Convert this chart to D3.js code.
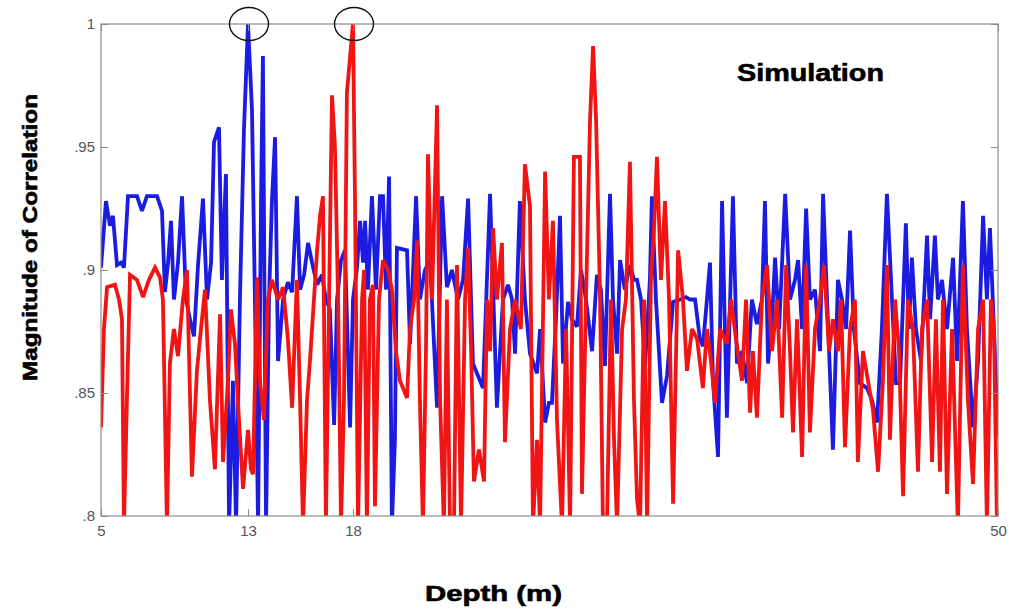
<!DOCTYPE html>
<html><head><meta charset="utf-8">
<script src="https://cdn.jsdelivr.net/npm/d3@7"></script>
<style>body{margin:0;background:#fff}svg{display:block}</style>
</head><body>
<svg id="c" width="1013" height="611"></svg>
<script>
const xTicks = [5, 13, 18, 50];
const yTicks = [0.8, 0.85, 0.9, 0.95, 1];
const yTickLabels = [".8", ".85", ".9", ".95", "1"];
const markedPeaks = [13, 18];

const blueDepth = [5.00,5.27,5.49,5.65,5.87,6.09,6.25,6.47,6.96,7.23,7.50,8.05,8.32,8.48,8.65,8.81,8.97,9.19,9.41,9.63,9.84,10.06,10.28,10.55,10.77,10.99,11.15,11.42,11.58,11.80,11.97,12.18,12.35,12.56,12.78,13.00,13.19,13.33,13.48,13.62,13.71,13.86,14.00,14.14,14.29,14.43,14.67,14.90,15.10,15.33,15.48,15.67,15.86,16.05,16.29,16.52,16.71,16.90,17.10,17.24,17.43,17.62,17.86,18.00,18.20,18.35,18.50,18.60,18.74,18.94,19.14,19.34,19.49,19.64,19.79,19.93,20.08,20.18,20.68,20.83,21.13,21.32,21.57,21.82,22.17,22.42,22.66,22.91,23.21,23.46,23.71,23.95,24.20,24.45,24.80,25.14,25.44,25.69,25.89,26.04,26.28,26.53,26.78,27.13,27.28,27.53,27.72,27.87,28.07,28.27,28.42,28.67,28.86,29.11,29.31,29.56,29.86,30.10,30.30,30.50,30.75,30.90,31.10,31.25,31.49,31.74,31.94,32.09,32.29,32.49,32.73,32.83,33.03,33.33,33.58,33.88,34.23,34.52,34.72,34.97,35.21,35.36,35.56,35.71,35.86,36.11,36.31,36.55,36.85,37.05,37.30,37.55,37.79,38.04,38.29,38.44,38.59,38.79,38.94,39.14,39.44,39.68,39.93,40.08,40.28,40.48,40.67,40.92,41.17,41.32,41.52,41.81,42.06,42.26,42.46,42.66,42.85,43.15,43.50,43.75,44.00,44.24,44.49,44.74,44.94,45.14,45.43,45.58,45.73,45.93,46.18,46.48,46.63,46.87,47.02,47.22,47.47,47.77,47.97,48.26,48.46,48.76,49.01,49.26,49.45,49.60,49.80,50.00];
const blueCorr = [0.901,0.928,0.918,0.922,0.902,0.903,0.901,0.930,0.930,0.924,0.930,0.930,0.924,0.891,0.903,0.920,0.888,0.903,0.930,0.888,0.880,0.873,0.902,0.929,0.888,0.903,0.952,0.958,0.896,0.939,0.796,0.855,0.796,0.888,0.957,1.000,0.965,0.888,0.796,0.928,0.987,0.796,0.888,0.928,0.954,0.863,0.888,0.895,0.891,0.930,0.892,0.898,0.911,0.903,0.894,0.898,0.888,0.884,0.837,0.888,0.904,0.908,0.836,0.888,0.901,0.920,0.903,0.920,0.892,0.930,0.892,0.930,0.930,0.892,0.938,0.796,0.831,0.909,0.908,0.870,0.930,0.888,0.900,0.904,0.844,0.930,0.893,0.900,0.888,0.896,0.929,0.862,0.857,0.852,0.931,0.844,0.888,0.894,0.888,0.866,0.928,0.888,0.866,0.858,0.876,0.838,0.846,0.846,0.880,0.922,0.862,0.887,0.880,0.877,0.900,0.888,0.867,0.898,0.892,0.861,0.931,0.888,0.866,0.904,0.892,0.902,0.896,0.896,0.888,0.861,0.896,0.930,0.888,0.846,0.857,0.887,0.888,0.889,0.888,0.888,0.872,0.869,0.888,0.903,0.855,0.824,0.928,0.840,0.930,0.862,0.867,0.854,0.888,0.878,0.888,0.928,0.862,0.880,0.905,0.876,0.931,0.888,0.896,0.904,0.876,0.925,0.888,0.892,0.867,0.931,0.888,0.827,0.896,0.888,0.876,0.916,0.876,0.854,0.852,0.847,0.838,0.876,0.931,0.888,0.854,0.854,0.919,0.876,0.905,0.876,0.863,0.914,0.880,0.914,0.888,0.896,0.876,0.905,0.863,0.928,0.876,0.836,0.863,0.922,0.888,0.917,0.876,0.832];

const redDepth = [5.00,5.16,5.33,5.76,5.98,6.14,6.25,6.41,6.58,6.96,7.29,7.61,7.94,8.21,8.37,8.59,8.75,8.97,9.19,9.46,9.68,9.95,10.22,10.44,10.66,10.93,11.20,11.48,11.64,11.91,12.07,12.29,12.51,12.73,13.00,13.14,13.24,13.43,13.57,13.76,13.95,14.14,14.43,14.67,14.90,15.10,15.33,15.48,15.62,15.81,15.95,16.14,16.29,16.43,16.57,16.71,16.86,17.00,17.14,17.29,17.43,17.57,17.71,18.00,18.10,18.25,18.45,18.55,18.69,18.84,18.99,19.09,19.29,19.49,19.74,19.93,20.13,20.33,20.53,20.68,20.83,21.03,21.18,21.32,21.47,21.62,21.72,21.92,22.17,22.32,22.51,22.66,22.81,23.01,23.16,23.36,23.56,23.71,23.86,24.00,24.25,24.50,24.65,24.80,24.95,25.14,25.39,25.54,25.79,26.04,26.33,26.53,26.78,26.93,27.13,27.28,27.53,27.72,27.92,28.12,28.37,28.57,28.77,28.96,29.26,29.36,29.56,29.76,29.91,30.06,30.26,30.40,30.60,30.80,30.95,31.10,31.35,31.54,31.74,31.94,32.09,32.24,32.44,32.59,32.78,32.93,33.08,33.28,33.48,33.68,33.88,34.13,34.37,34.57,34.82,35.07,35.36,35.56,35.76,35.96,36.21,36.55,36.75,37.00,37.30,37.50,37.70,37.84,38.04,38.29,38.54,38.79,39.04,39.29,39.49,39.68,39.83,40.03,40.28,40.48,40.67,40.92,41.17,41.37,41.62,41.81,42.06,42.21,42.41,42.66,42.90,43.05,43.30,43.55,43.80,44.05,44.29,44.49,44.64,44.89,45.09,45.29,45.53,45.78,46.03,46.23,46.48,46.73,46.92,47.12,47.27,47.47,47.72,48.01,48.26,48.51,48.76,49.01,49.26,49.45,49.65,49.80,49.95];
const redCorr = [0.836,0.876,0.893,0.894,0.888,0.880,0.796,0.847,0.898,0.896,0.889,0.896,0.901,0.897,0.888,0.796,0.862,0.876,0.865,0.888,0.900,0.816,0.859,0.876,0.892,0.847,0.819,0.882,0.822,0.855,0.884,0.870,0.839,0.811,0.835,0.819,0.817,0.897,0.855,0.839,0.888,0.896,0.888,0.893,0.872,0.844,0.896,0.847,0.796,0.847,0.863,0.888,0.908,0.922,0.930,0.796,0.888,0.971,0.950,0.888,0.796,0.847,0.972,1.000,0.928,0.796,0.888,0.900,0.796,0.888,0.894,0.804,0.888,0.904,0.900,0.892,0.867,0.855,0.851,0.848,0.876,0.888,0.912,0.847,0.796,0.867,0.947,0.888,0.967,0.847,0.796,0.888,0.796,0.796,0.902,0.796,0.888,0.909,0.867,0.814,0.827,0.814,0.888,0.867,0.917,0.888,0.911,0.830,0.876,0.888,0.876,0.943,0.926,0.796,0.831,0.796,0.940,0.888,0.920,0.839,0.796,0.876,0.796,0.946,0.946,0.809,0.888,0.961,0.991,0.961,0.888,0.796,0.796,0.888,0.831,0.796,0.876,0.888,0.944,0.847,0.807,0.796,0.888,0.796,0.896,0.916,0.946,0.896,0.928,0.888,0.805,0.908,0.888,0.859,0.876,0.872,0.852,0.876,0.863,0.846,0.876,0.870,0.888,0.872,0.855,0.888,0.842,0.867,0.840,0.888,0.902,0.867,0.888,0.840,0.902,0.867,0.834,0.880,0.824,0.902,0.834,0.876,0.888,0.902,0.867,0.880,0.867,0.888,0.828,0.876,0.888,0.822,0.867,0.855,0.843,0.818,0.855,0.902,0.831,0.888,0.867,0.808,0.888,0.876,0.818,0.876,0.888,0.822,0.880,0.818,0.888,0.809,0.876,0.796,0.902,0.847,0.813,0.876,0.888,0.796,0.888,0.876,0.796];

const L = 101, R = 998, T = 24, B = 516;
const svg = d3.select("#c");
const x = d3.scaleLinear().domain([5, 13, 18, 50]).range([L, 248, 353, R]);
const y = d3.scaleLinear().domain([0.8, 1]).range([B, T]);

svg.append("defs").append("clipPath").attr("id", "clip")
  .append("rect").attr("x", L).attr("y", T - 3).attr("width", R - L).attr("height", B - T + 3);

const line = d3.line().x(d => x(d[0])).y(d => y(d[1]));
const blue = d3.zip(blueDepth, blueCorr);
const red = d3.zip(redDepth, redCorr);

const g = svg.append("g").attr("clip-path", "url(#clip)");
g.append("path").datum(blue).attr("d", line).attr("fill", "none")
  .attr("stroke", "#1c1ce0").attr("stroke-width", 3.8).attr("stroke-linejoin", "miter").attr("stroke-miterlimit", 2.5);
g.append("path").datum(red).attr("d", line).attr("fill", "none")
  .attr("stroke", "#f01414").attr("stroke-width", 3.8).attr("stroke-linejoin", "miter").attr("stroke-miterlimit", 2.5);

// frame
svg.append("rect").attr("x", L).attr("y", T).attr("width", R - L).attr("height", B - T)
  .attr("fill", "none").attr("stroke", "#8c8c8c").attr("stroke-width", 1.2);

const tickFont = "'Liberation Sans', Arial, sans-serif";
const ax = svg.append("g").attr("transform", `translate(0,${B})`)
  .call(d3.axisBottom(x).tickValues(xTicks).tickFormat(d3.format("d")).tickSize(-7).tickSizeOuter(0).tickPadding(9));
const ay = svg.append("g").attr("transform", `translate(${L},0)`)
  .call(d3.axisLeft(y).tickValues(yTicks).tickFormat((d, i) => yTickLabels[i]).tickSize(-7).tickSizeOuter(0).tickPadding(6));
const ar = svg.append("g").attr("transform", `translate(${R},0)`)
  .call(d3.axisRight(y).tickValues(yTicks).tickFormat("").tickSize(-7).tickSizeOuter(0));
const at = svg.append("g").attr("transform", `translate(0,${T})`)
  .call(d3.axisTop(x).tickValues(xTicks).tickFormat("").tickSize(-7).tickSizeOuter(0));
[ax, ay, ar, at].forEach(a => {
  a.select(".domain").remove();
  a.selectAll(".tick line").attr("stroke", "#8c8c8c");
  a.selectAll(".tick text").attr("fill", "#555").style("font-family", tickFont).style("font-size", "15px");
});

// marked peaks
svg.selectAll("ellipse.mk").data(markedPeaks).join("ellipse").attr("class", "mk")
  .attr("cx", d => x(d) + 1).attr("cy", y(1)).attr("rx", 19.5).attr("ry", 16.5)
  .attr("fill", "none").attr("stroke", "#111").attr("stroke-width", 1.4);

const titleFont = "'Liberation Sans', Arial, sans-serif";
svg.append("text").text("Simulation").attr("x", 737).attr("y", 81)
  .attr("textLength", 147).attr("lengthAdjust", "spacingAndGlyphs")
  .style("font-family", titleFont).style("font-weight", "bold").style("font-size", "24px")
  .attr("fill", "#000").attr("stroke", "#000").attr("stroke-width", 0.6);
svg.append("text").text("Depth (m)").attr("x", 425).attr("y", 601)
  .attr("textLength", 137).attr("lengthAdjust", "spacingAndGlyphs")
  .style("font-family", titleFont).style("font-weight", "bold").style("font-size", "22px")
  .attr("fill", "#000").attr("stroke", "#000").attr("stroke-width", 0.6);
svg.append("text").text("Magnitude of Correlation")
  .attr("transform", "translate(37,381) rotate(-90)")
  .attr("textLength", 287).attr("lengthAdjust", "spacingAndGlyphs")
  .style("font-family", titleFont).style("font-weight", "bold").style("font-size", "20px")
  .attr("fill", "#000").attr("stroke", "#000").attr("stroke-width", 0.6);
</script>
</body></html>
